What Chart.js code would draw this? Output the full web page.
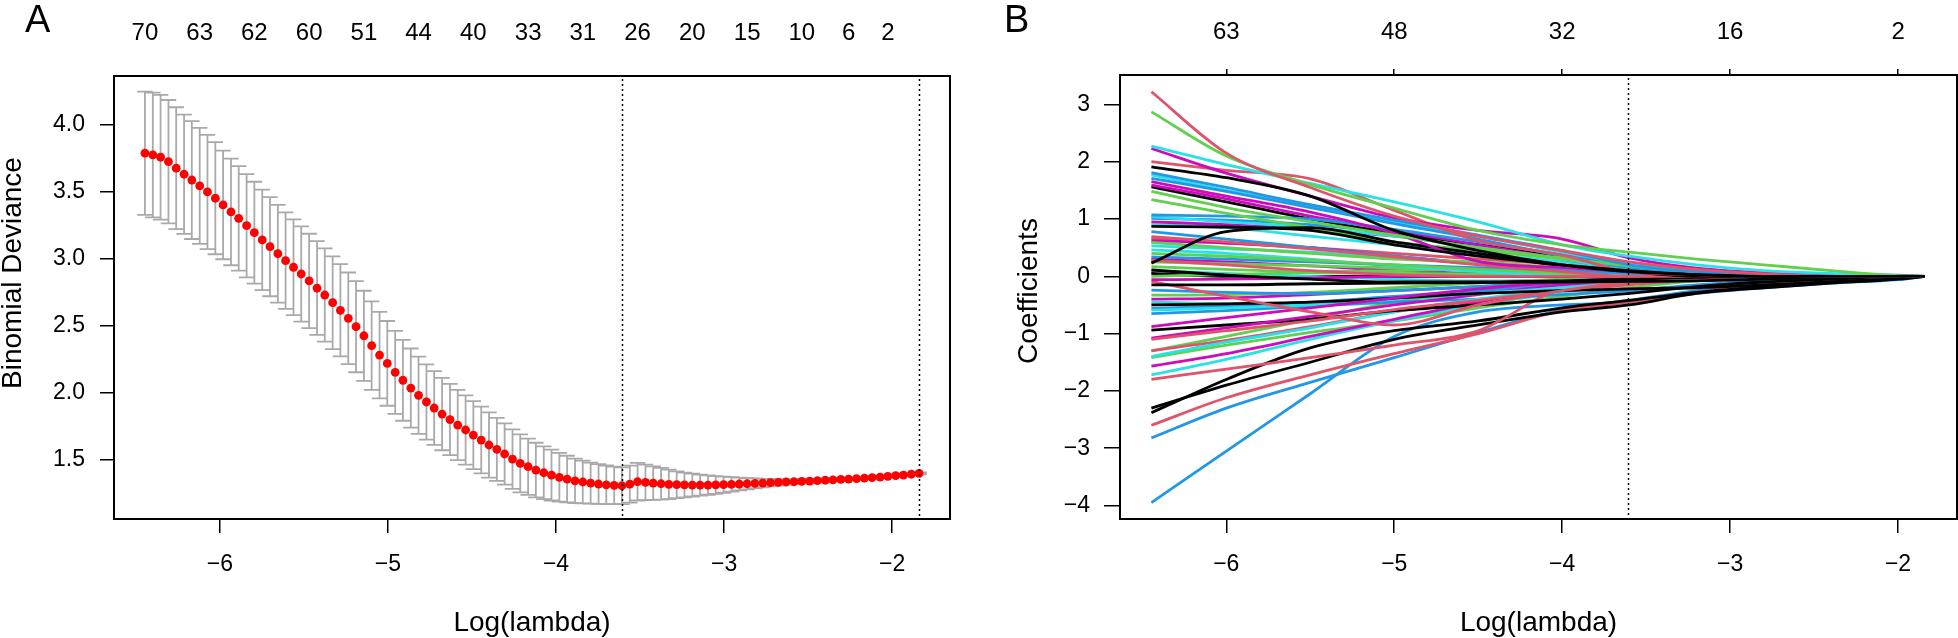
<!DOCTYPE html>
<html>
<head>
<meta charset="utf-8">
<script src="https://cdn.jsdelivr.net/npm/chart.js@4.4.0/dist/chart.umd.min.js"></script>
<style>
  html, body { margin: 0; padding: 0; background: #fff; }
  #wrap { position: relative; width: 1958px; height: 638px; overflow: hidden; }
  #cvA { position: absolute; left: 0; top: 0; }
  #cvB { position: absolute; left: 980px; top: 0; }
</style>
</head>
<body>
<div id="wrap">
  <canvas id="cvA" width="980" height="638"></canvas>
  <canvas id="cvB" width="978" height="638"></canvas>
</div>
<script>
// ---- panel A: cross-validated binomial deviance ----
const logLambda = [
  -6.446, -6.399, -6.353, -6.306, -6.260, -6.213, -6.167, -6.120, -6.074, -6.027,
  -5.981, -5.934, -5.888, -5.841, -5.795, -5.748, -5.702, -5.655, -5.609, -5.562,
  -5.516, -5.469, -5.422, -5.376, -5.329, -5.283, -5.236, -5.190, -5.143, -5.097,
  -5.050, -5.004, -4.957, -4.911, -4.864, -4.818, -4.771, -4.725, -4.678, -4.631,
  -4.585, -4.538, -4.492, -4.445, -4.399, -4.352, -4.306, -4.259, -4.213, -4.166,
  -4.120, -4.073, -4.027, -3.980, -3.934, -3.887, -3.841, -3.794, -3.747, -3.701,
  -3.654, -3.608, -3.561, -3.515, -3.468, -3.422, -3.375, -3.329, -3.282, -3.236,
  -3.189, -3.143, -3.096, -3.050, -3.003, -2.956, -2.910, -2.863, -2.817, -2.770,
  -2.724, -2.677, -2.631, -2.584, -2.538, -2.491, -2.445, -2.398, -2.352, -2.305,
  -2.259, -2.212, -2.165, -2.119, -2.072, -2.026, -1.979, -1.933, -1.886, -1.840
];
const cvMean = [
  3.784, 3.771, 3.754, 3.721, 3.672, 3.627, 3.584, 3.540, 3.495, 3.448,
  3.398, 3.346, 3.298, 3.243, 3.191, 3.137, 3.087, 3.034, 2.982, 2.933,
  2.883, 2.831, 2.778, 2.726, 2.669, 2.612, 2.552, 2.490, 2.422, 2.348,
  2.278, 2.216, 2.149, 2.090, 2.032, 1.978, 1.928, 1.883, 1.838, 1.797,
  1.756, 1.719, 1.681, 1.644, 1.607, 1.575, 1.540, 1.502, 1.470, 1.445,
  1.420, 1.400, 1.383, 1.366, 1.353, 1.340, 1.331, 1.323, 1.316, 1.310,
  1.306, 1.303, 1.315, 1.333, 1.328, 1.322, 1.318, 1.314, 1.311, 1.309,
  1.308, 1.308, 1.308, 1.309, 1.311, 1.313, 1.316, 1.318, 1.321, 1.323,
  1.326, 1.328, 1.331, 1.333, 1.336, 1.338, 1.341, 1.344, 1.347, 1.350,
  1.353, 1.356, 1.360, 1.364, 1.368, 1.373, 1.378, 1.383, 1.389, 1.395
];
const cvSd = [
  0.460, 0.465, 0.465, 0.460, 0.455, 0.445, 0.440, 0.433, 0.426, 0.418,
  0.405, 0.398, 0.390, 0.385, 0.380, 0.375, 0.370, 0.365, 0.360, 0.357,
  0.355, 0.352, 0.350, 0.348, 0.346, 0.344, 0.342, 0.340, 0.336, 0.330,
  0.323, 0.316, 0.309, 0.302, 0.295, 0.288, 0.281, 0.275, 0.270, 0.266,
  0.262, 0.258, 0.254, 0.249, 0.243, 0.235, 0.228, 0.222, 0.216, 0.210,
  0.204, 0.197, 0.190, 0.182, 0.174, 0.166, 0.160, 0.153, 0.148, 0.144,
  0.140, 0.137, 0.138, 0.140, 0.132, 0.125, 0.118, 0.110, 0.100, 0.092,
  0.085, 0.078, 0.072, 0.066, 0.060, 0.054, 0.048, 0.042, 0.037, 0.032,
  0.028, 0.024, 0.021, 0.018, 0.016, 0.014, 0.013, 0.012, 0.011, 0.010,
  0.010, 0.009, 0.009, 0.008, 0.008, 0.008, 0.007, 0.007, 0.007, 0.007
];
const nzeroAt = [-6.446, -6.120, -5.795, -5.469, -5.143, -4.818, -4.492, -4.166,
                 -3.841, -3.515, -3.189, -2.863, -2.538, -2.259, -2.026];
const nzeroLabels = ['70', '63', '62', '60', '51', '44', '40', '33', '31', '26', '20', '15', '10', '6', '2'];
const lambdaMin = -3.608;
const lambda1se = -1.840;
const xTicks = [-6, -5, -4, -3, -2];
const devTicks = [1.5, 2.0, 2.5, 3.0, 3.5, 4.0];

// ---- panel B: coefficient paths ----
const pathGrid = [-6.446, -6.0, -5.5, -5.0, -4.5, -4.0, -3.6, -3.2, -2.8, -2.4, -2.0, -1.84];
const dfTicks = [-6, -5, -4, -3, -2];
const dfLabels = ['63', '48', '32', '16', '2'];
const coefTicks = [-4, -3, -2, -1, 0, 1, 2, 3];
// colours cycle black, red, green, blue, cyan, magenta (R palette 1:6)
const coefPaths = [
  [1.91, 1.72, 1.40, 0.80, 0.45, 0.20, 0.08, 0.03, 0, 0, 0, 0],
  [3.22, 2.15, 1.55, 1.05, 0.70, 0.45, 0.25, 0.12, 0.04, 0, 0, 0],
  [2.87, 2.10, 1.60, 1.19, 0.80, 0.55, 0.42, 0.30, 0.20, 0.10, 0.01, 0],
  [1.81, 1.55, 1.25, 0.98, 0.72, 0.45, 0.20, 0.08, 0.03, 0, 0, 0],
  [2.27, 1.95, 1.62, 1.30, 0.95, 0.55, 0.35, 0.20, 0.10, 0.05, 0, 0],
  [2.23, 1.80, 1.40, 1.02, 0.80, 0.65, 0.32, 0.14, 0.06, 0.02, 0.005, 0],

  [0.87, 0.86, 0.80, 0.55, 0.35, 0.20, 0.10, 0.03, 0, 0, 0, 0],
  [2.00, 1.85, 1.70, 1.15, 0.62, 0.37, 0.08, 0.03, 0, 0, 0, 0],
  [1.48, 1.20, 0.95, 0.72, 0.50, 0.32, 0.18, 0.08, 0, 0, 0, 0],
  [1.71, 1.48, 1.20, 0.92, 0.65, 0.35, 0.15, 0.05, 0, 0, 0, 0],
  [1.77, 1.50, 1.22, 0.95, 0.70, 0.42, 0.22, 0.10, 0.04, 0, 0, 0],
  [1.65, 1.40, 1.12, 0.75, 0.26, 0.15, 0.08, 0.03, 0, 0, 0, 0],

  [0.23, 0.78, 0.85, 0.60, 0.40, 0.18, 0.08, 0, 0, 0, 0, 0],
  [0.69, 0.60, 0.48, 0.34, 0.20, 0.08, 0, 0, 0, 0, 0, 0],
  [1.34, 1.10, 0.85, 0.60, 0.45, 0.30, 0.20, 0.12, 0.05, 0, 0, 0],
  [1.07, 1.05, 1.00, 0.82, 0.60, 0.38, 0.22, 0.10, 0.04, 0, 0, 0],
  [1.04, 0.95, 0.85, 0.70, 0.50, 0.30, 0.12, 0.05, 0.02, 0, 0, 0],
  [1.59, 1.35, 1.05, 0.80, 0.55, 0.30, 0.12, 0.04, 0, 0, 0, 0],

  [0.11, 0.02, -0.05, -0.10, -0.10, -0.08, -0.05, -0.02, 0, 0, 0, 0],
  [0.28, 0.20, 0.10, 0.03, 0, 0, 0, 0, 0, 0, 0, 0],
  [0.59, 0.50, 0.40, 0.30, 0.25, 0.15, 0.08, 0.03, 0, 0, 0, 0],
  [0.78, 0.65, 0.50, 0.35, 0.22, 0.12, 0.05, 0.02, 0, 0, 0, 0],
  [0.53, 0.48, 0.42, 0.32, 0.22, 0.12, 0.05, 0, 0, 0, 0, 0],
  [-0.06, -0.05, -0.03, 0, 0, 0, 0, 0, 0, 0, 0, 0],

  [-0.15, -0.15, -0.13, -0.12, -0.11, -0.10, -0.09, -0.08, -0.05, -0.02, 0, 0],
  [-0.09, -0.35, -0.62, -0.85, -0.50, -0.25, -0.10, 0, 0, 0, 0, 0],
  [0.40, 0.35, 0.28, 0.20, 0.12, 0.05, 0, 0, 0, 0, 0, 0],
  [0.34, 0.30, 0.25, 0.20, 0.15, 0.10, 0.06, 0.04, 0.03, 0.02, 0.01, 0],
  [0.46, 0.40, 0.30, 0.18, 0.08, 0.02, 0, 0, 0, 0, 0, 0],
  [-0.88, -0.72, -0.55, -0.38, -0.22, -0.10, -0.03, 0, 0, 0, 0, 0],

  [-0.50, -0.48, -0.45, -0.38, -0.30, -0.25, -0.22, -0.20, -0.15, -0.10, -0.04, 0],
  [-1.10, -0.95, -0.78, -0.58, -0.42, -0.25, -0.15, -0.06, 0, 0, 0, 0],
  [0.17, 0.12, 0.08, 0.10, 0.12, 0.10, 0.06, 0.02, 0, 0, 0, 0],
  [-0.24, -0.28, -0.30, -0.25, -0.18, -0.10, -0.04, 0, 0, 0, 0, 0],
  [-0.59, -0.55, -0.50, -0.40, -0.30, -0.20, -0.12, -0.05, -0.02, 0, 0, 0],
  [-1.08, -0.90, -0.70, -0.50, -0.32, -0.15, -0.05, 0, 0, 0, 0, 0],

  [-0.94, -0.85, -0.75, -0.60, -0.50, -0.40, -0.30, -0.18, -0.10, -0.05, 0, 0],
  [-1.80, -1.62, -1.42, -1.20, -0.95, -0.22, -0.12, -0.05, 0, 0, 0, 0],
  [0.00, 0.03, 0.06, 0.05, 0.04, 0.02, 0, 0, 0, 0, 0, 0],
  [-0.56, -0.52, -0.45, -0.35, -0.25, -0.15, -0.06, 0, 0, 0, 0, 0],
  [-1.40, -1.15, -0.90, -0.62, -0.40, -0.20, -0.08, 0, 0, 0, 0, 0],
  [-1.57, -1.35, -1.05, -0.75, -0.45, -0.20, -0.05, 0, 0, 0, 0, 0],

  [-2.30, -1.90, -1.50, -1.10, -0.85, -0.62, -0.50, -0.30, -0.20, -0.12, -0.05, 0],
  [-1.30, -1.12, -0.88, -0.62, -0.42, -0.20, -0.06, 0, 0, 0, 0, 0],
  [-0.33, -0.32, -0.28, -0.20, -0.12, -0.05, 0, 0, 0, 0, 0, 0],
  [-0.65, -0.60, -0.52, -0.45, -0.40, -0.32, -0.25, -0.15, -0.08, -0.03, -0.01, 0],
  [-1.72, -1.45, -1.10, -0.78, -0.50, -0.28, -0.12, -0.05, 0, 0, 0, 0],
  [0.62, 0.58, 0.50, 0.35, 0.22, 0.12, 0.05, 0.02, 0.01, 0, 0, 0],

  [-2.38, -1.80, -1.25, -0.95, -0.78, -0.55, -0.42, -0.28, -0.18, -0.10, -0.03, 0],
  [-2.60, -2.12, -1.72, -1.35, -1.00, -0.60, -0.45, -0.28, -0.14, -0.05, 0, 0],
  [-1.30, -1.05, -0.75, -0.45, -0.25, -0.10, 0, 0, 0, 0, 0, 0],
  [-2.82, -2.30, -1.85, -1.42, -0.98, -0.58, -0.42, -0.25, -0.12, -0.05, -0.02, 0],
  [0.10, 0.05, 0, -0.05, -0.08, -0.06, -0.03, 0, 0, 0, 0, 0],
  [-0.40, -0.38, -0.32, -0.25, -0.18, -0.10, -0.04, 0, 0, 0, 0, 0],

  [1.56, 1.30, 1.00, 0.75, 0.55, 0.35, 0.20, 0.08, 0, 0, 0, 0],
  [0.66, 0.58, 0.50, 0.40, 0.30, 0.20, 0.08, 0.04, 0.02, 0, 0, 0],
  [-1.42, -1.20, -0.98, -0.78, -0.55, -0.35, -0.20, -0.08, 0, 0, 0, 0],
  [-3.95, -3.05, -2.05, -1.05, -0.62, -0.50, -0.45, -0.30, -0.20, -0.12, -0.06, 0],
  [-0.45, -0.48, -0.50, -0.42, -0.30, -0.15, -0.05, 0, 0, 0, 0, 0],
  [0.95, 0.90, 0.82, 0.70, 0.55, 0.35, 0.20, 0.10, 0.04, 0.02, 0, 0],

  [0.05, 0, 0, 0, 0, 0, 0, 0, 0, 0, 0, 0],
  [0.05, 0.02, 0, 0, 0, 0, 0, 0, 0, 0, 0, 0],
  [0.25, 0.22, 0.18, 0.15, 0.12, 0.08, 0.05, 0.03, 0.01, 0, 0, 0],
  [1.01, 0.98, 0.90, 0.75, 0.55, 0.35, 0.20, 0.10, 0.05, 0.03, 0.02, 0],
  [0.90, 0.85, 0.70, 0.55, 0.40, 0.25, 0.10, 0.06, 0.04, 0.02, 0.01, 0],
  [0.30, 0.25, 0.18, 0.10, 0.05, 0.02, 0, 0, 0, 0, 0, 0]
];
const pathColors = ['#000000', '#DF536B', '#61D04F', '#2297E6', '#28E2E5', '#CD0BBC'];

const FONT = "'Liberation Sans', Arial, sans-serif";
Chart.defaults.font.family = FONT;
Chart.defaults.color = '#000';

const minus = v => (v < 0 ? '\u2212' + Math.abs(v) : String(v));
const setTicks = vals => scale => { scale.ticks = vals.map(v => ({ value: v })); };

// box, dotted lambda lines, y title and panel letter
function framePlugin(opt) {
  return {
    id: 'frame' + opt.letter,
    afterDatasetsDraw(chart) {
      const { ctx, chartArea: a, scales: { x } } = chart;
      ctx.save();
      ctx.strokeStyle = '#000';
      ctx.lineWidth = 1.5;
      ctx.setLineDash([2, 3]);
      opt.vlines.forEach(v => {
        const px = Math.round(x.getPixelForValue(v)) + 0.5;
        ctx.beginPath();
        ctx.moveTo(px, a.top + 3);
        ctx.lineTo(px, a.bottom - 2);
        ctx.stroke();
      });
      ctx.setLineDash([]);
      ctx.lineWidth = 2;
      ctx.strokeRect(a.left, a.top, a.right - a.left, a.bottom - a.top);
      ctx.fillStyle = '#000';
      ctx.font = '38px ' + FONT;
      ctx.textBaseline = 'alphabetic';
      ctx.fillText(opt.letter, opt.letterX, 32);
      // y axis title
      ctx.font = '28px ' + FONT;
      ctx.textAlign = 'center';
      ctx.textBaseline = 'middle';
      ctx.translate(opt.titleX, opt.titleY);
      ctx.rotate(-Math.PI / 2);
      ctx.fillText(opt.title, 0, 0);
      ctx.restore();
    }
  };
}

const errorBars = {
  id: 'errorBars',
  beforeDatasetsDraw(chart) {
    const { ctx, scales: { x, y } } = chart;
    const capW = 0.046;
    ctx.save();
    ctx.strokeStyle = '#a9a9a9';
    ctx.lineWidth = 1.8;
    logLambda.forEach((lx, i) => {
      const hi = y.getPixelForValue(cvMean[i] + cvSd[i]);
      const lo = y.getPixelForValue(cvMean[i] - cvSd[i]);
      const px = x.getPixelForValue(lx);
      const l = x.getPixelForValue(lx - capW), r = x.getPixelForValue(lx + capW);
      ctx.beginPath();
      ctx.moveTo(px, hi); ctx.lineTo(px, lo);
      ctx.moveTo(l, hi); ctx.lineTo(r, hi);
      ctx.moveTo(l, lo); ctx.lineTo(r, lo);
      ctx.stroke();
    });
    ctx.restore();
  }
};

function bottomAxis(min, max) {
  return {
    type: 'linear', position: 'bottom', min: min, max: max,
    afterBuildTicks: setTicks(xTicks),
    afterFit: s => { s.height = 119; },
    border: { display: false },
    grid: { drawOnChartArea: false, drawTicks: true, tickLength: 14, color: '#000', lineWidth: 1.5 },
    ticks: { padding: 18, autoSkip: false, maxRotation: 0, font: { size: 23 }, callback: v => minus(v) },
    title: { display: true, text: 'Log(lambda)', font: { size: 28, lineHeight: 1 }, padding: { top: 0, bottom: 1 } }
  };
}

new Chart(document.getElementById('cvA'), {
  type: 'scatter',
  data: {
    datasets: [{
      data: logLambda.map((lx, i) => ({ x: lx, y: cvMean[i] })),
      pointRadius: 4.4,
      pointBackgroundColor: '#ff0000',
      pointBorderWidth: 0,
      borderColor: '#ff0000'
    }]
  },
  options: {
    responsive: false, animation: false, devicePixelRatio: 1,
    layout: { padding: { left: 0, right: 30, top: 0, bottom: 0 } },
    plugins: { legend: { display: false }, tooltip: { enabled: false } },
    scales: {
      x: bottomAxis(-6.63, -1.656),
      x2: {
        type: 'linear', position: 'top', min: -6.63, max: -1.656,
        afterBuildTicks: setTicks(nzeroAt),
        afterFit: s => { s.height = 76; },
        border: { display: false },
        grid: { display: false, drawTicks: false },
        ticks: { padding: 28, autoSkip: false, maxRotation: 0, font: { size: 24 },
                 callback: (v, i) => nzeroLabels[i] }
      },
      y: {
        type: 'linear', min: 1.055, max: 4.36,
        afterBuildTicks: setTicks(devTicks),
        afterFit: s => { s.width = 114; },
        border: { display: false },
        grid: { drawOnChartArea: false, drawTicks: true, tickLength: 14, color: '#000', lineWidth: 1.5 },
        ticks: { padding: 15, font: { size: 23 }, callback: v => v.toFixed(1) }
      }
    }
  },
  plugins: [errorBars, framePlugin({ letter: 'A', letterX: 25, vlines: [lambdaMin, lambda1se],
                                     title: 'Binomial Deviance', titleX: 13, titleY: 273 })]
});

new Chart(document.getElementById('cvB'), {
  type: 'scatter',
  data: {
    datasets: coefPaths.map((p, i) => ({
      data: pathGrid.map((lx, j) => ({ x: lx, y: p[j] })),
      showLine: true,
      borderColor: pathColors[i % 6],
      borderWidth: 2.8,
      pointRadius: 0,
      cubicInterpolationMode: 'monotone'
    }))
  },
  options: {
    responsive: false, animation: false, devicePixelRatio: 1,
    layout: { padding: { left: 0, right: 1, top: 0, bottom: 0 } },
    plugins: { legend: { display: false }, tooltip: { enabled: false } },
    scales: {
      x: bottomAxis(-6.633, -1.649),
      x2: {
        type: 'linear', position: 'top', min: -6.633, max: -1.649,
        afterBuildTicks: setTicks(dfTicks),
        afterFit: s => { s.height = 75; },
        border: { display: false },
        grid: { drawOnChartArea: false, drawTicks: true, tickLength: 6, color: '#000', lineWidth: 1.5 },
        ticks: { padding: 22, autoSkip: false, maxRotation: 0, font: { size: 24 },
                 callback: (v, i) => dfLabels[i] }
      },
      y: {
        type: 'linear', min: -4.236, max: 3.513,
        afterBuildTicks: setTicks(coefTicks),
        afterFit: s => { s.width = 140; },
        border: { display: false },
        grid: { drawOnChartArea: false, drawTicks: true, tickLength: 16, color: '#000', lineWidth: 1.5 },
        ticks: { padding: 14, font: { size: 23 }, callback: v => minus(v) }
      }
    }
  },
  plugins: [framePlugin({ letter: 'B', letterX: 24, vlines: [lambdaMin],
                          title: 'Coefficients', titleX: 49, titleY: 291 })]
});
</script>
</body>
</html>
